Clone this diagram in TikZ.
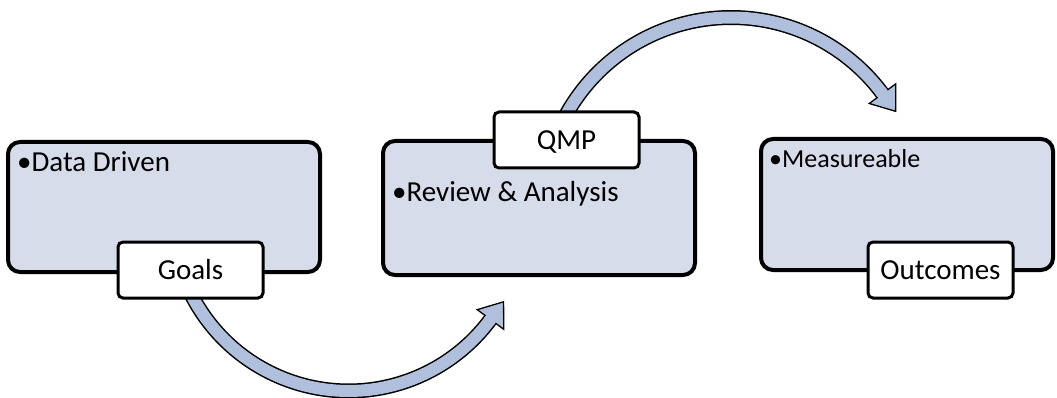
\documentclass[tikz,border=0pt]{standalone}
\usepackage{fontspec}
\setmainfont{Carlito}
\usetikzlibrary{calc}
\definecolor{boxfill}{RGB}{214,220,234}
\definecolor{arrowfill}{RGB}{176,192,220}
\tikzset{
  panel/.style={draw=black, line width=4pt, fill=boxfill, rounded corners=12pt, inner sep=0pt},
  tab/.style={draw=black, line width=3pt, fill=white, rounded corners=5pt, inner sep=0pt,
    minimum width=145pt, minimum height=56pt, text height=18.7pt, text depth=0pt,
    font=\fontsize{29}{34}\selectfont},
  bullettext/.style={anchor=base west, inner sep=0pt, font=\fontsize{29}{34}\selectfont},
  shaftline/.style={draw=black, line width=15pt},
  shaftfill/.style={draw=arrowfill, line width=12pt},
  headtri/.style={fill=arrowfill, draw=black, line width=1.3pt, line join=miter},
}
\begin{document}
\begin{tikzpicture}[x=1pt, y=-1pt]
\useasboundingbox (0,0) rectangle (1057,398);

% lower arrow: circular arc around (c1), running from under Goals to its head
\coordinate (c1) at (348.6,214.5);
\def\ra{176.5}
\coordinate (a1base) at ($(c1)+(36.5:\ra)$);
\coordinate (a1tip) at ($(a1base)+(-53.5:22)$);
\coordinate (a1l) at ($(c1)+(36.5:\ra-16.5)$);
\coordinate (a1r) at ($(c1)+(36.5:\ra+16.5)$);
\def\lowerarc{plot[domain=156:36.5, samples=80, variable=\t] ({348.6+\ra*cos(\t)}, {214.5+\ra*sin(\t)})}
\draw[shaftline] \lowerarc;
\draw[shaftfill] \lowerarc;
\draw[headtri] (a1l) -- (a1tip) -- (a1r) -- cycle;
\draw[shaftfill] ($(a1base)!-3pt!(a1tip)$) -- ($(a1base)!2pt!(a1tip)$);

% upper arrow: circular arc around (c2), running from under QMP to its head
\coordinate (c2) at (731.1,206.1);
\def\rb{188.6}
\coordinate (a2base) at ($(c2)+(-36.6:\rb)$);
\coordinate (a2tip) at ($(a2base)+(53.4:22)$);
\coordinate (a2l) at ($(c2)+(-36.6:\rb+16.5)$);
\coordinate (a2r) at ($(c2)+(-36.6:\rb-16.5)$);
\def\upperarc{plot[domain=208:323.4, samples=80, variable=\t] ({731.1+\rb*cos(\t)}, {206.1+\rb*sin(\t)})}
\draw[shaftline] \upperarc;
\draw[shaftfill] \upperarc;
\draw[headtri] (a2l) -- (a2tip) -- (a2r) -- cycle;
\draw[shaftfill] ($(a2base)!-3pt!(a2tip)$) -- ($(a2base)!2pt!(a2tip)$);

% panels
\node[panel, minimum width=312pt, minimum height=130pt] (box1) at (164,207) {};
\node[panel, minimum width=312pt, minimum height=134pt] (box2) at (539,208) {};
\node[panel, minimum width=292pt, minimum height=131pt] (box3) at (907,204.5) {};

% bullet texts
\node[bullettext] (txt1) at (17,172) {•Data Driven};
\node[bullettext] (txt2) at (392,202) {•Review \& Analysis};
\node[bullettext, font=\fontsize{26}{31}\selectfont] (txt3) at (769,168) {•Measureable};

% tabs
\node[tab] (goals) at (190.5,270) {Goals};
\node[tab] (qmp) at (566.5,140) {QMP};
\node[tab] (outcomes) at (940.5,270) {Outcomes};
\end{tikzpicture}
\end{document}
